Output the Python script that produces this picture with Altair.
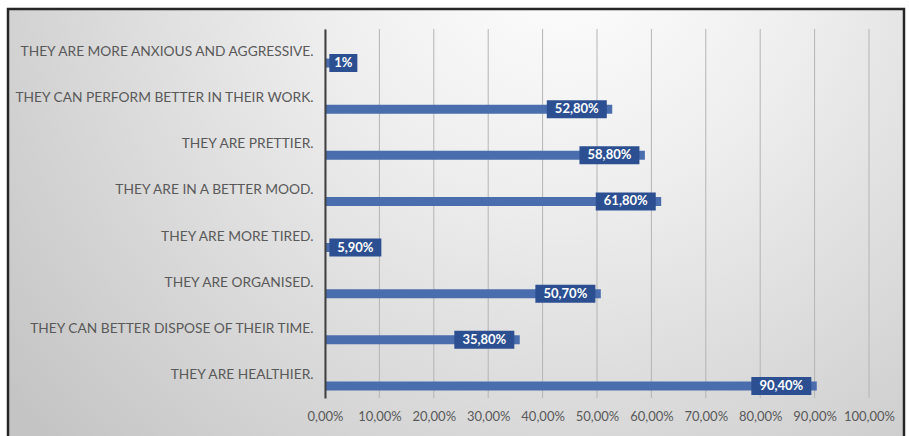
import altair as alt
import pandas as pd

categories = [
    "THEY ARE MORE ANXIOUS AND AGGRESSIVE.",
    "THEY CAN PERFORM BETTER IN THEIR WORK.",
    "THEY ARE PRETTIER.",
    "THEY ARE IN A BETTER MOOD.",
    "THEY ARE MORE TIRED.",
    "THEY ARE ORGANISED.",
    "THEY CAN BETTER DISPOSE OF THEIR TIME.",
    "THEY ARE HEALTHIER.",
]
values = [0.01, 0.528, 0.588, 0.618, 0.059, 0.507, 0.358, 0.904]
labels = ["1%", "52,80%", "58,80%", "61,80%", "5,90%", "50,70%", "35,80%", "90,40%"]
tick_values = [0.0, 0.1, 0.2, 0.3, 0.4, 0.5, 0.6, 0.7, 0.8, 0.9, 1.0]

df = pd.DataFrame({"cat": categories, "value": values, "label": labels})
ticks_df = pd.DataFrame({"t": tick_values})

W, H = 544, 369
FONT = "Lato"

xscale = alt.Scale(domain=[0, 1], nice=False)
ysort = categories

bg = alt.Chart(alt.Data(values=[{"a": 1}])).mark_rect(
    fill={
        "gradient": "radial",
        "x1": 0.62, "y1": 0.18, "r1": 0.0,
        "x2": 0.62, "y2": 0.18, "r2": 0.8,
        "stops": [
            {"offset": 0.0, "color": "#ffffff"},
            {"offset": 0.35, "color": "#eeeeee"},
            {"offset": 1.0, "color": "#c4c4c4"},
        ],
    },
    stroke="#262626",
    strokeWidth=2.5,
).encode(
    x=alt.value(-317), x2=alt.value(579),
    y=alt.value(-20), y2=alt.value(420),
)

grid = alt.Chart(ticks_df).mark_rule(color="#b4b4b4", strokeWidth=1).encode(
    x=alt.X("t:Q", scale=xscale),
    y=alt.value(0), y2=alt.value(H),
)

base = alt.Chart(df)

bars = base.mark_bar(size=9, yOffset=11, color="#4a6dae").encode(
    x=alt.X("value:Q", scale=xscale,
            axis=alt.Axis(values=tick_values, grid=False,
                          domain=False, ticks=False, title=None, zindex=1,
                          labelOverlap=False, labelFlush=False,
                          labelExpr="replace(format(datum.value, '.2%'), '.', ',')",
                          labelFont=FONT, labelFontSize=13, labelColor="#595959",
                          labelPadding=12)),
    y=alt.Y("cat:N", sort=ysort,
            axis=alt.Axis(title=None, ticks=False, domain=True, domainColor="#404040",
                          domainWidth=2, grid=False, labelFont=FONT, labelFontSize=13.75,
                          labelColor="#595959", labelPadding=12, labelLimit=400, zindex=1)),
)

calc = base.transform_calculate(
    w="(length(datum.label) * 8 + 12) / 544",
).transform_calculate(
    right="max(datum.value - 0.01, datum.w + 0.008)",
).transform_calculate(
    left="datum.right - datum.w",
    mid="(datum.right + datum.right - datum.w) / 2",
)

boxes = calc.mark_bar(size=18, yOffset=11, color="#2c4f91").encode(
    x=alt.X("left:Q", scale=xscale),
    x2="right:Q",
    y=alt.Y("cat:N", sort=ysort),
)

texts = calc.mark_text(yOffset=11, color="white", fontWeight="bold", font=FONT,
                       fontSize=13, align="center", baseline="middle").encode(
    x=alt.X("mid:Q", scale=xscale),
    y=alt.Y("cat:N", sort=ysort),
    text="label:N",
)

chart = alt.layer(bg, grid, bars, boxes, texts).properties(
    width=W, height=H,
    autosize=alt.AutoSizeParams(type="none"),
    padding={"left": 325, "top": 29, "right": 40, "bottom": 38},
    background="white",
).configure_view(stroke=None)

chart.save("out.html", embed_options={"renderer": "svg", "actions": False})
